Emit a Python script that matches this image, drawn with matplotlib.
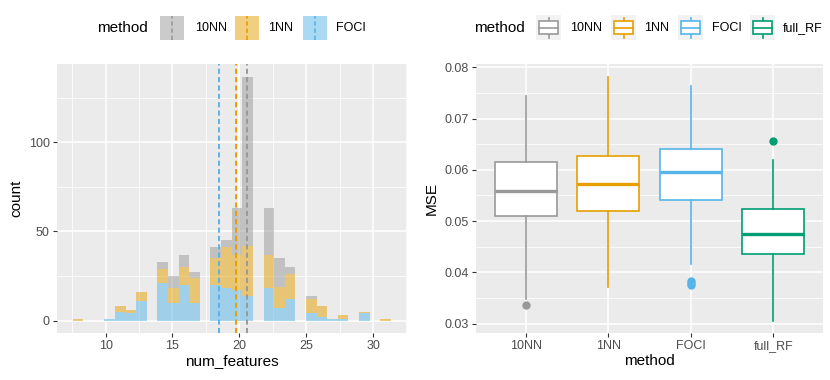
import numpy as np
import matplotlib.pyplot as plt
from matplotlib.patches import Rectangle
from matplotlib.lines import Line2D
from matplotlib.ticker import MultipleLocator, FormatStrFormatter

plt.rcParams['font.family'] = ['Liberation Sans', 'DejaVu Sans']

# counts of selected features per method (integer values 8..31)
num_features = np.arange(8, 32)
count_10NN = [0, 0, 0, 0, 0, 0, 4, 7, 7, 3, 6, 4, 26, 95, 26, 16, 4, 2, 0, 0, 0, 0, 0, 0]
count_1NN = [1, 0, 0, 3, 2, 5, 8, 8, 10, 14, 15, 23, 20, 28, 19, 12, 14, 8, 6, 0, 2, 1, 0, 1]
count_FOCI = [0, 0, 1, 5, 4, 11, 21, 10, 20, 10, 20, 18, 17, 14, 18, 7, 12, 4, 2, 1, 1, 4, 0, 0]

# MSE boxplot summary per method
methods = ['10NN', '1NN', 'FOCI', 'full_RF']
mse_whislo = [0.0348, 0.0372, 0.0417, 0.0306]
mse_q1 = [0.0509, 0.0520, 0.0542, 0.0435]
mse_med = [0.0558, 0.0572, 0.0595, 0.0475]
mse_q3 = [0.0616, 0.0627, 0.0641, 0.0523]
mse_whishi = [0.0743, 0.0782, 0.0764, 0.0620]
mse_outliers = [[0.0336], [], [0.0383, 0.0379, 0.0375], [0.0657]]

colores = {'10NN': '#999999', '1NN': '#E69F00', 'FOCI': '#56B4E9', 'full_RF': '#009E73'}
fondo = '#EBEBEB'
W, H = 830, 380
guiones = (2.6, 1.7)


def estilo_ggplot(ax):
    ax.set_facecolor(fondo)
    for s in ax.spines.values():
        s.set_visible(False)
    ax.grid(which='major', color='white', lw=1.1)
    ax.grid(which='minor', color='white', lw=0.55)
    ax.set_axisbelow(True)
    ax.tick_params(which='major', length=3, width=0.8, color='#333333',
                   labelcolor='#4D4D4D', labelsize=9, pad=2)
    ax.tick_params(which='minor', length=0)


fig = plt.figure(figsize=(W / 100, H / 100), dpi=100)
ax1 = fig.add_axes([56.7 / W, 1 - 332.7 / H, 350 / W, 268.4 / H])
ax2 = fig.add_axes([476 / W, 1 - 332.7 / H, 347 / W, 268.4 / H])

# --- histograma apilado (bins como ggplot, bins=30) ---
xmin, xmax = num_features.min(), num_features.max()
ancho = (xmax - xmin) / 29
origen = ancho / 2 + np.floor((xmin - ancho / 2) / ancho) * ancho
bordes = origen + ancho * np.arange(31)
base = np.zeros(30)
for m, c in [('FOCI', count_FOCI), ('1NN', count_1NN), ('10NN', count_10NN)]:
    h, _ = np.histogram(num_features, bins=bordes, weights=c)
    ax1.bar(bordes[:-1], h, width=ancho, bottom=base, align='edge',
            color=colores[m], alpha=0.5, lw=0)
    base += h

for m, c in [('10NN', count_10NN), ('1NN', count_1NN), ('FOCI', count_FOCI)]:
    media = np.sum(num_features * np.array(c)) / np.sum(c)
    ax1.axvline(media, color=colores[m], lw=1.4, dashes=guiones)

estilo_ggplot(ax1)
rango = bordes[-1] - bordes[0]
ax1.set_xlim(bordes[0] - 0.05 * rango, bordes[-1] + 0.05 * rango)
ax1.set_ylim(-0.05 * base.max(), 1.05 * base.max())
ax1.xaxis.set_major_locator(MultipleLocator(5))
ax1.xaxis.set_minor_locator(MultipleLocator(2.5))
ax1.yaxis.set_major_locator(MultipleLocator(50))
ax1.yaxis.set_minor_locator(MultipleLocator(25))
ax1.set_xlabel('num_features', fontsize=11, labelpad=2)
ax1.set_ylabel('count', fontsize=11, labelpad=4)

# --- boxplot ---
stats = []
for i, m in enumerate(methods):
    stats.append({'whislo': mse_whislo[i], 'q1': mse_q1[i], 'med': mse_med[i],
                  'q3': mse_q3[i], 'whishi': mse_whishi[i], 'fliers': mse_outliers[i]})
pos = np.arange(1, len(methods) + 1)
bp = ax2.bxp(stats, positions=pos, widths=0.75, showcaps=False, patch_artist=True)
for i, m in enumerate(methods):
    col = colores[m]
    bp['boxes'][i].set(facecolor='white', edgecolor=col, lw=1.2)
    bp['medians'][i].set(color=col, lw=2.4)
    for w in bp['whiskers'][2 * i:2 * i + 2]:
        w.set(color=col, lw=1.2)
    bp['fliers'][i].set(marker='o', markerfacecolor=col, markeredgecolor=col, markersize=5)

estilo_ggplot(ax2)
ax2.set_xlim(0.4, 4.6)
lo = min(mse_whislo + [v for o in mse_outliers for v in o])
hi = max(mse_whishi + [v for o in mse_outliers for v in o])
ax2.set_ylim(lo - 0.05 * (hi - lo), hi + 0.05 * (hi - lo))
ax2.set_xticks(pos)
ax2.set_xticklabels(methods)
ax2.yaxis.set_major_locator(MultipleLocator(0.01))
ax2.yaxis.set_minor_locator(MultipleLocator(0.005))
ax2.yaxis.set_major_formatter(FormatStrFormatter('%.2f'))
ax2.grid(which='minor', axis='x', visible=False)
ax2.set_xlabel('method', fontsize=11, labelpad=2)
ax2.set_ylabel('MSE', fontsize=11, labelpad=4)


# --- leyendas (coordenadas en pixeles) ---
def fx(x):
    return x / W


def fy(y):
    return 1 - y / H


yc = 27.7
fig.text(fx(97.5), fy(yc), 'method', fontsize=11, va='center', ha='left')
for m, xk, xt in [('10NN', 160, 195), ('1NN', 235, 268), ('FOCI', 303, 336)]:
    fig.add_artist(Rectangle((fx(xk), fy(yc + 12)), 24 / W, 24 / H, transform=fig.transFigure,
                             facecolor=colores[m], alpha=0.5, lw=0, zorder=1))
    fig.add_artist(Line2D([fx(xk + 12)] * 2, [fy(yc + 12), fy(yc - 12)], transform=fig.transFigure,
                          color=colores[m], lw=1.2, dashes=guiones, zorder=2))
    fig.text(fx(xt), fy(yc), m, fontsize=9, va='center', ha='left')

fig.text(fx(474), fy(yc), 'method', fontsize=11, va='center', ha='left')
for m, xk, xt in [('10NN', 536, 570), ('1NN', 611, 644), ('FOCI', 678, 712), ('full_RF', 750, 783)]:
    col = colores[m]
    fig.add_artist(Rectangle((fx(xk), fy(yc + 12.5)), 25 / W, 25 / H, transform=fig.transFigure,
                             facecolor='#F2F2F2', lw=0, zorder=1))
    fig.add_artist(Line2D([fx(xk + 12.5)] * 2, [fy(yc + 10), fy(yc - 10)], transform=fig.transFigure,
                          color=col, lw=1.2, zorder=2))
    fig.add_artist(Rectangle((fx(xk + 3.1), fy(yc + 6.5)), 18.8 / W, 13 / H, transform=fig.transFigure,
                             facecolor='white', edgecolor=col, lw=1.2, zorder=3))
    fig.add_artist(Line2D([fx(xk + 3.1), fx(xk + 21.9)], [fy(yc)] * 2, transform=fig.transFigure,
                          color=col, lw=1.2, zorder=4))
    fig.text(fx(xt), fy(yc), m, fontsize=9, va='center', ha='left')

fig.savefig('out.png', dpi=100)
